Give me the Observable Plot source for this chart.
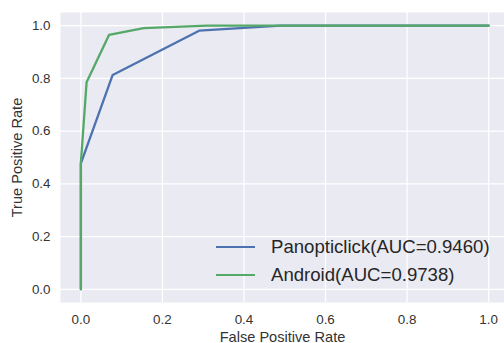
<!DOCTYPE html>
<html>
<head>
<meta charset="utf-8">
<script src="https://cdn.jsdelivr.net/npm/d3@7"></script>
<script src="https://cdn.jsdelivr.net/npm/@observablehq/plot@0.6"></script>
<style>
  html, body { margin: 0; padding: 0; background: #fff; }
  #wrap { position: relative; width: 504px; height: 343px; overflow: hidden; font-family: "Liberation Sans", Arial, sans-serif; }
  #legend { position: absolute; left: 216px; top: 233px; color: #262626; font-size: 18.6px; }
  #legend .row { display: flex; align-items: center; height: 28px; }
  #legend .swatch { width: 39px; height: 2.4px; margin-right: 16px; }
</style>
</head>
<body>
<div id="wrap"></div>
<script>
// ROC curves: false positive rate vs true positive rate
const seriesNames = ["Panopticlick(AUC=0.9460)", "Android(AUC=0.9738)"];
const seriesColors = ["#4C72B0", "#55A868"];

const panopticlickFpr = [0, 0, 0.078, 0.29, 0.49, 1.0];
const panopticlickTpr = [0, 0.478, 0.813, 0.981, 1.0, 1.0];

const androidFpr = [0, 0, 0.014, 0.069, 0.154, 0.31, 1.0];
const androidTpr = [0, 0.48, 0.785, 0.965, 0.991, 1.0, 1.0];

const xTicks = [0, 0.2, 0.4, 0.6, 0.8, 1.0];
const yTicks = [0, 0.2, 0.4, 0.6, 0.8, 1.0];

const rows = [
  ...panopticlickFpr.map((x, i) => ({series: seriesNames[0], fpr: x, tpr: panopticlickTpr[i]})),
  ...androidFpr.map((x, i) => ({series: seriesNames[1], fpr: x, tpr: androidTpr[i]}))
];

const fmt = d3.format(".1f");

const chart = Plot.plot({
  width: 504,
  height: 343,
  marginLeft: 60,
  marginRight: 0,
  marginTop: 12,
  marginBottom: 41,
  style: {fontFamily: "Liberation Sans, Arial, sans-serif", background: "transparent", overflow: "visible"},
  x: {domain: [-0.05, 1.039]},
  y: {domain: [-0.05, 1.05]},
  color: {domain: seriesNames, range: seriesColors},
  marks: [
    Plot.frame({fill: "#EAEAF2", stroke: null}),
    Plot.gridX(xTicks, {stroke: "#fff", strokeOpacity: 1, strokeWidth: 1.3}),
    Plot.gridY(yTicks, {stroke: "#fff", strokeOpacity: 1, strokeWidth: 1.3}),
    // tick labels
    Plot.axisX(xTicks, {tickSize: 0, tickPadding: 12, tickFormat: fmt, fontSize: 13.4, fill: "#333", label: null}),
    Plot.axisY(yTicks, {tickSize: 0, tickPadding: 10, tickFormat: fmt, fontSize: 13.4, fill: "#333", label: null}),
    // axis titles, slightly larger than the tick labels
    Plot.axisX([], {fontSize: 14.6, fill: "#333", label: "False Positive Rate", labelAnchor: "center", labelArrow: "none", labelOffset: 39}),
    Plot.axisY([], {fontSize: 14.6, fill: "#333", label: "True Positive Rate", labelAnchor: "center", labelArrow: "none", labelOffset: 49}),
    Plot.line(rows, {x: "fpr", y: "tpr", z: "series", stroke: "series", strokeWidth: 2.3, strokeLinejoin: "round"})
  ]
});

const wrap = document.getElementById("wrap");
wrap.appendChild(chart);

// Legend in the lower right of the plotting area
const legend = document.createElement("div");
legend.id = "legend";
seriesNames.forEach((name, i) => {
  const row = document.createElement("div");
  row.className = "row";
  const sw = document.createElement("div");
  sw.className = "swatch";
  sw.style.background = seriesColors[i];
  const label = document.createElement("span");
  label.textContent = name;
  row.appendChild(sw);
  row.appendChild(label);
  legend.appendChild(row);
});
wrap.appendChild(legend);
</script>
</body>
</html>
